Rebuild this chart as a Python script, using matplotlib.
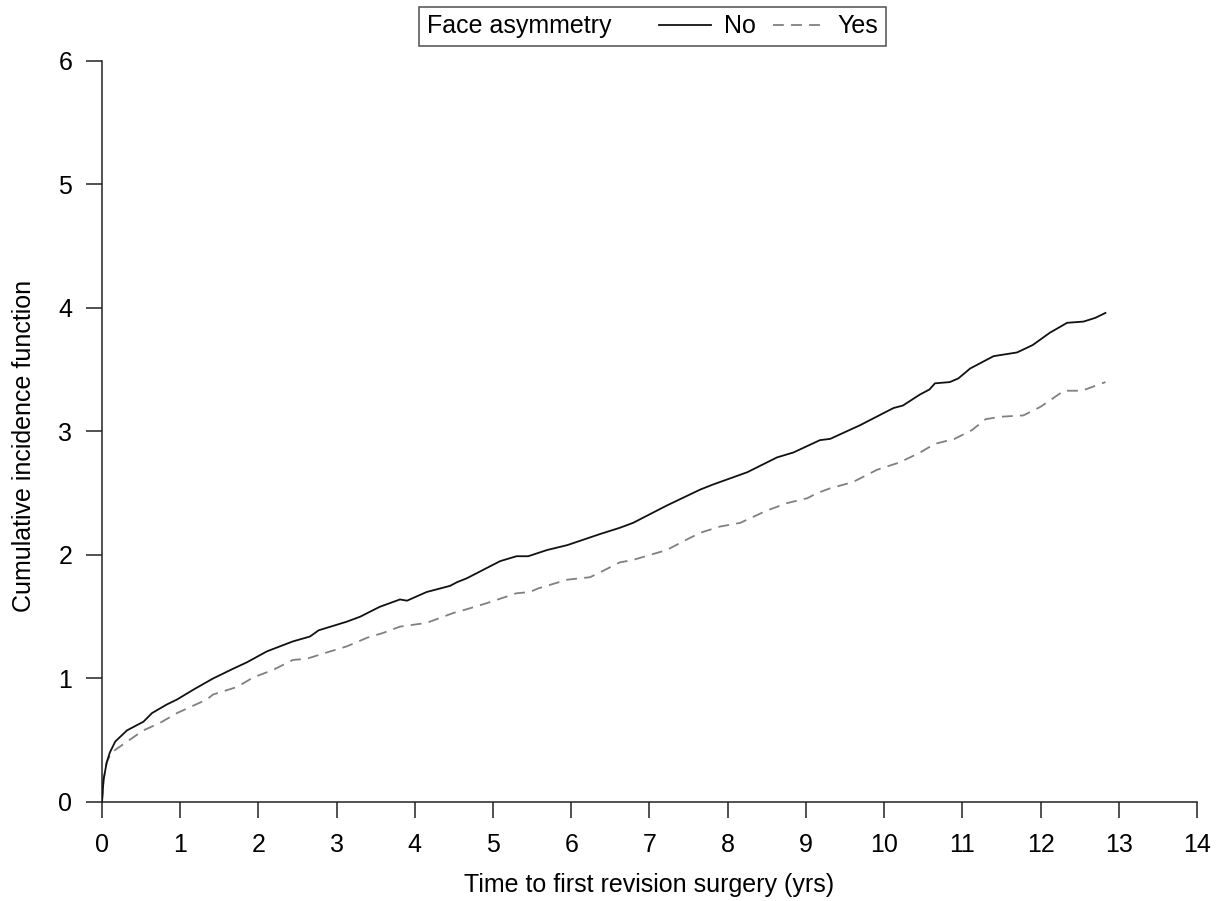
import matplotlib
matplotlib.use("Agg")
import matplotlib.pyplot as plt   # noqa: E402
from matplotlib.lines import Line2D  # noqa: E402
from matplotlib.offsetbox import HPacker  # noqa: E402

# cumulative incidence
t_no = [0, 0.02, 0.06, 0.10, 0.17, 0.32, 0.53, 0.64, 0.83, 0.96, 1.17, 1.42,
        1.68, 1.85, 2.11, 2.44, 2.66, 2.77, 3.13, 3.30, 3.55, 3.81, 3.90, 4.15,
        4.45, 4.54, 4.66, 5.09, 5.30, 5.45, 5.69, 5.95, 6.37, 6.62, 6.79, 7.22,
        7.65, 7.81, 8.25, 8.63, 8.84, 9.18, 9.31, 9.69, 10.12, 10.24, 10.46,
        10.58, 10.65, 10.84, 10.95, 11.10, 11.40, 11.70, 11.90, 12.12, 12.34,
        12.55, 12.70, 12.83]
cif_no = [0, 0.18, 0.32, 0.40, 0.49, 0.58, 0.65, 0.72, 0.79, 0.83, 0.91, 1.00,
          1.08, 1.13, 1.22, 1.30, 1.34, 1.39, 1.46, 1.50, 1.58, 1.64, 1.63, 1.70,
          1.75, 1.78, 1.81, 1.95, 1.99, 1.99, 2.04, 2.08, 2.17, 2.22, 2.26, 2.40,
          2.53, 2.57, 2.67, 2.79, 2.83, 2.93, 2.94, 3.05, 3.19, 3.21, 3.30,
          3.34, 3.39, 3.40, 3.43, 3.51, 3.61, 3.64, 3.70, 3.80, 3.88,
          3.89, 3.92, 3.96]

t_yes = [0, 0.02, 0.06, 0.12, 0.30, 0.53, 0.74, 0.96, 1.34, 1.42, 1.72, 1.94,
         2.19, 2.44, 2.62, 2.87, 3.13, 3.39, 3.60, 3.81, 4.15, 4.49, 4.66, 4.92,
         5.30, 5.47, 5.58, 5.95, 6.24, 6.37, 6.62, 6.79, 7.22, 7.43, 7.65, 7.90,
         8.16, 8.50, 8.76, 9.02, 9.14, 9.31, 9.60, 9.91, 10.20, 10.46, 10.65,
         10.90, 11.12, 11.30, 11.50, 11.78, 12.00, 12.30, 12.53, 12.83]
cif_yes = [0, 0.18, 0.32, 0.40, 0.48, 0.58, 0.64, 0.72, 0.83, 0.87, 0.93, 1.01,
           1.07, 1.15, 1.16, 1.21, 1.26, 1.33, 1.37, 1.42, 1.45, 1.53, 1.56, 1.61,
           1.69, 1.70, 1.73, 1.80, 1.82, 1.86, 1.94, 1.96, 2.04, 2.11, 2.18, 2.23,
           2.26, 2.36, 2.42, 2.46, 2.50, 2.54, 2.59, 2.69, 2.75, 2.83, 2.90,
           2.94, 3.01, 3.10, 3.12, 3.13, 3.20, 3.33, 3.33, 3.40]

x_ticks = list(range(0, 15))
y_ticks = list(range(0, 7))

FS = 18
plt.rcParams["font.family"] = ["Liberation Sans", "DejaVu Sans"]
plt.rcParams["font.size"] = FS

fig = plt.figure(figsize=(12.2, 9.01), dpi=100)
ax = fig.add_axes([0.0836, 0.1099, 0.8975, 0.8224])

ax.plot(t_yes, cif_yes, color="#808080", lw=1.3, dashes=(6, 4), zorder=2)
ax.plot(t_no, cif_no, color="#111111", lw=1.3, zorder=3)

ax.set_xlim(0, 14)
ax.set_ylim(0, 6)
ax.set_xticks(x_ticks)
ax.set_yticks(y_ticks)
ax.tick_params(direction="out", length=11.5, width=1.1, color="#222222",
               labelsize=FS)
ax.tick_params(axis="x", pad=11)
ax.tick_params(axis="y", pad=10)
for side in ("top", "right"):
    ax.spines[side].set_visible(False)
for side in ("left", "bottom"):
    ax.spines[side].set_linewidth(1.1)
    ax.spines[side].set_color("#222222")

ax.set_xlabel("Time to first revision surgery (yrs)", fontsize=FS)
ax.set_ylabel("Cumulative incidence function", fontsize=FS)
ax.xaxis.set_label_coords(0.5, -0.096)
ax.yaxis.set_label_coords(-0.060, 0.48)

handles = [Line2D([], [], color="#111111", lw=1.3),
           Line2D([], [], color="#808080", lw=1.3, dashes=(6, 4))]
leg = ax.legend(handles, ["No", "Yes"], ncol=2, loc="center",
                bbox_to_anchor=(0.503, 1.0466), fontsize=FS, frameon=True,
                fancybox=False, edgecolor="#222222", handlelength=2.1,
                handletextpad=0.5, columnspacing=0.7, borderpad=0.3,
                title="Face asymmetry", title_fontsize=FS)
# put the legend title to the left of the entries, on one row
leg._legend_box = HPacker(pad=0.3 * FS, sep=34, align="center",
                          children=[leg._legend_title_box,
                                    leg._legend_handle_box])
leg._legend_box.set_figure(fig)
leg._legend_box.axes = ax
leg._set_loc(leg._loc)
leg.get_frame().set_linewidth(1.1)

fig.savefig("out.png", dpi=100)
